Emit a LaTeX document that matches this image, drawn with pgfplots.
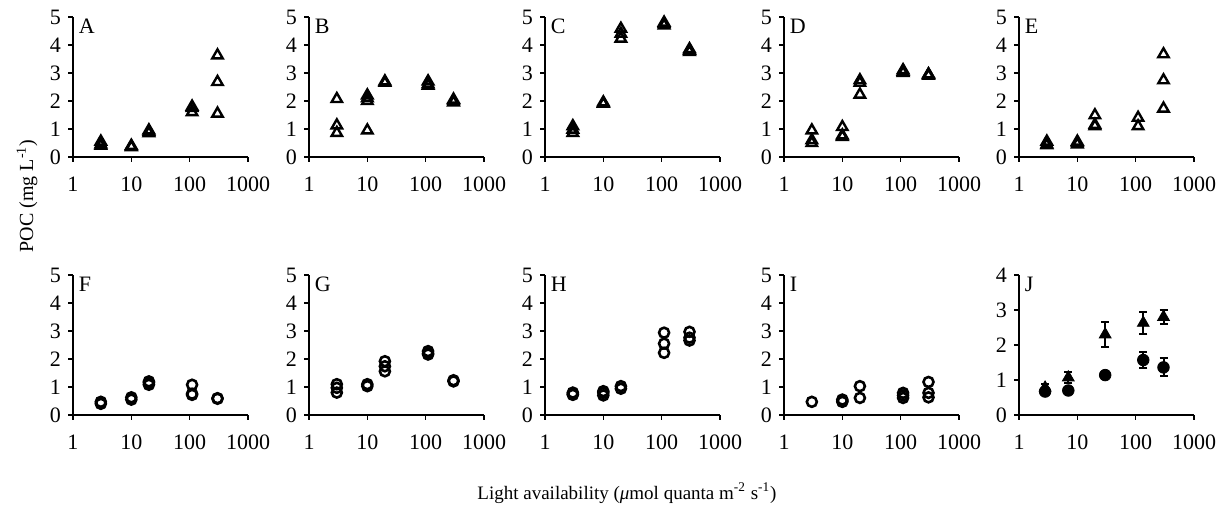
\documentclass[border=0pt]{standalone}
\usepackage{fontspec}
\setmainfont{Liberation Serif}
\usepackage{pgfplots}
\pgfplotsset{compat=1.18}
\pgfkeys{/pgf/number format/assume math mode=true}
\pgfplotsset{
  pocpanel/.style={
    scale only axis, width=87.5pt, height=70pt, anchor=south west,
    xmin=1, xmax=1000, ymin=0, ymax=5,
    axis lines=left, axis line style={line width=1pt, -},
    xtick={1,10,100,1000}, xticklabels={1,10,100,1000},
    ytick={0,1,2,3,4,5}, xminorticks=false,
    tick align=outside, major tick length=2.5pt,
    tick style={line width=0.8pt, black},
    tick label style={font=\fontsize{11}{13}\selectfont},
    xticklabel style={yshift=-4pt},
    clip=false,
  },
  trimarks/.style={only marks, mark=triangle, mark size=3pt,
    mark options={line width=1.2pt, draw=black}},
  circmarks/.style={only marks, mark=o, mark size=2.5pt,
    mark options={line width=1.3pt, draw=black}},
}
\tikzset{plbl/.style={anchor=north west, inner sep=1pt, font=\fontsize{11}{13}\selectfont}}
\begin{document}
\begin{tikzpicture}[font=\fontsize{9.5}{11}\selectfont]
\useasboundingbox (0,0) rectangle (611pt,254pt);

% top row: triangles
\begin{axis}[xmode=log, pocpanel, at={(36.5pt,175.5pt)}]
  \addplot[trimarks] coordinates {(3,0.55) (3,0.45) (3,0.4) (10,0.35) (10,0.4) (10,0.38)
    (20,0.85) (20,0.95) (20,0.9) (110,1.6) (110,1.75) (110,1.8)
    (300,3.63) (300,2.68) (300,1.55)};
  \node[plbl] at (rel axis cs:0.02,1) {A};
\end{axis}

\begin{axis}[xmode=log, pocpanel, at={(154.5pt,175.5pt)}]
  \addplot[trimarks] coordinates {(3,2.07) (3,1.13) (3,0.86) (10,2.2) (10,2.1) (10,2.0) (10,0.95)
    (20,2.65) (20,2.7) (20,2.65) (110,2.7) (110,2.6) (110,2.55)
    (300,2.05) (300,2.0) (300,1.95)};
  \node[plbl] at (rel axis cs:0.02,1) {B};
\end{axis}

\begin{axis}[xmode=log, pocpanel, at={(272.5pt,175.5pt)}]
  \addplot[trimarks] coordinates {(3,1.1) (3,0.98) (3,0.86) (10,1.95) (10,1.9) (10,1.9)
    (20,4.58) (20,4.4) (20,4.23) (110,4.8) (110,4.75) (110,4.7)
    (300,3.85) (300,3.8) (300,3.75)};
  \node[plbl] at (rel axis cs:0.02,1) {C};
\end{axis}

\begin{axis}[xmode=log, pocpanel, at={(392pt,175.5pt)}]
  \addplot[trimarks] coordinates {(3,0.95) (3,0.6) (3,0.5) (10,1.07) (10,0.77) (10,0.72)
    (20,2.74) (20,2.65) (20,2.23) (110,3.1) (110,3.0) (110,3.05)
    (300,2.95) (300,2.95) (300,2.9)};
  \node[plbl] at (rel axis cs:0.02,1) {D};
\end{axis}

\begin{axis}[xmode=log, pocpanel, at={(509.5pt,175.5pt)}]
  \addplot[trimarks] coordinates {(3,0.55) (3,0.45) (3,0.42) (10,0.55) (10,0.5) (10,0.45)
    (20,1.49) (20,1.1) (20,1.15) (110,1.4) (110,1.1)
    (300,3.67) (300,2.74) (300,1.73)};
  \node[plbl] at (rel axis cs:0.02,1) {E};
\end{axis}

% bottom row: circles
\begin{axis}[xmode=log, pocpanel, at={(36.5pt,46.5pt)}]
  \addplot[circmarks] coordinates {(3,0.47) (3,0.4) (10,0.63) (10,0.55)
    (20,1.2) (20,1.08) (20,1.15) (110,1.08) (110,0.76) (110,0.72)
    (300,0.6) (300,0.58)};
  \node[plbl] at (rel axis cs:0.02,1) {F};
\end{axis}

\begin{axis}[xmode=log, pocpanel, at={(154.5pt,46.5pt)}]
  \addplot[circmarks] coordinates {(3,1.1) (3,0.97) (3,0.8) (10,1.1) (10,1.03)
    (20,1.92) (20,1.74) (20,1.56) (110,2.28) (110,2.16) (110,2.2)
    (300,1.24) (300,1.2)};
  \node[plbl] at (rel axis cs:0.02,1) {G};
\end{axis}

\begin{axis}[xmode=log, pocpanel, at={(272.5pt,46.5pt)}]
  \addplot[circmarks] coordinates {(3,0.75) (3,0.8) (3,0.72) (10,0.79) (10,0.7) (10,0.85)
    (20,1.03) (20,0.94) (110,2.94) (110,2.55) (110,2.22)
    (300,2.97) (300,2.76) (300,2.66)};
  \node[plbl] at (rel axis cs:0.02,1) {H};
\end{axis}

\begin{axis}[xmode=log, pocpanel, at={(392pt,46.5pt)}]
  \addplot[circmarks] coordinates {(3,0.47) (10,0.55) (10,0.47) (10,0.5)
    (20,1.03) (20,0.61) (110,0.79) (110,0.61) (110,0.7)
    (300,1.18) (300,0.79) (300,0.63)};
  \node[plbl] at (rel axis cs:0.02,1) {I};
\end{axis}

\begin{axis}[xmode=log, pocpanel, at={(509.5pt,46.5pt)}, ymax=4, ytick={0,1,2,3,4}]
  \addplot[only marks, mark=triangle*, mark size=3.4pt, black,
    error bars/.cd, y dir=both, y explicit,
    error mark options={rotate=90, mark size=2pt, line width=1pt, black},
    error bar style={line width=1pt, black}]
    coordinates {(2.8,0.78) +- (0,0.1) (7,1.07) +- (0,0.17) (30,2.3) +- (0,0.35)
      (135,2.63) +- (0,0.32) (300,2.8) +- (0,0.2)};
  \addplot[only marks, mark=*, mark size=2.9pt, black,
    error bars/.cd, y dir=both, y explicit,
    error mark options={rotate=90, mark size=2pt, line width=1pt, black},
    error bar style={line width=1pt, black}]
    coordinates {(2.8,0.67) +- (0,0.1) (7,0.7) +- (0,0.08) (30,1.14) +- (0,0.05)
      (135,1.57) +- (0,0.24) (300,1.36) +- (0,0.26)};
  \node[plbl] at (rel axis cs:0.02,1) {J};
\end{axis}

\node[rotate=90, font=\fontsize{10}{12}\selectfont] at (13.5pt,156pt) {POC (mg L\textsuperscript{-1})};
\node at (313.5pt,7.5pt) {Light availability (\textit{μ}mol quanta m\textsuperscript{-2} s\textsuperscript{-1})};
\end{tikzpicture}
\end{document}
